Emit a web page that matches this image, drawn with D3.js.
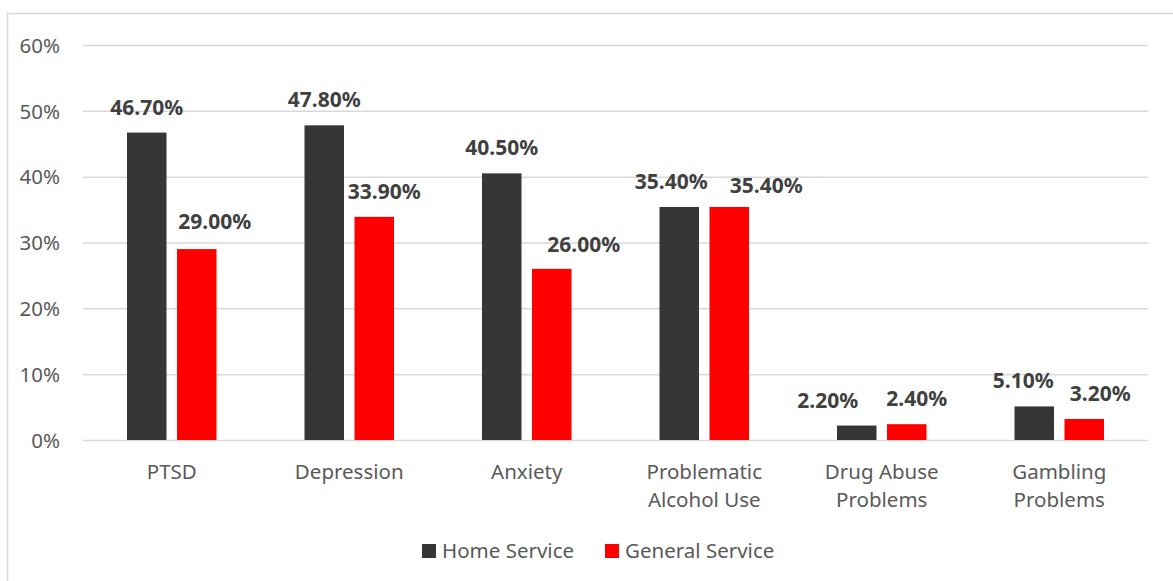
<!DOCTYPE html>
<html>
<head>
<meta charset="utf-8">
<script src="https://cdn.jsdelivr.net/npm/d3@7"></script>
<style>
  html, body { margin: 0; padding: 0; background: #fff; }
  svg { display: block; }
  text { font-family: "Noto Sans", "Open Sans", sans-serif; }
</style>
</head>
<body>
<svg id="chart" width="1173" height="581"></svg>
<script>
const categories = [["PTSD"], ["Depression"], ["Anxiety"], ["Problematic", "Alcohol Use"], ["Drug Abuse", "Problems"], ["Gambling", "Problems"]];
const seriesNames = ["Home Service", "General Service"];
const homeService = [0.467, 0.478, 0.405, 0.354, 0.022, 0.051];
const generalService = [0.290, 0.339, 0.260, 0.354, 0.024, 0.032];
const yTicks = [0, 0.1, 0.2, 0.3, 0.4, 0.5, 0.6];
// manual label nudges (as placed in the original chart)
const homeLabelDx = [0, 0, 0, -8, -29, -11];
const homeLabelDy = [-18, -18, -18, -18, -18, -18];
const generalLabelDx = [18, 10, 32, 37, 10, 16];
const generalLabelDy = [-20, -18, -17, -14, -18, -18];

const colors = ["#363636", "#ff0000"];
const svg = d3.select("#chart");

// frame
svg.append("rect").attr("x", 7.5).attr("y", 13.5).attr("width", 1200).attr("height", 600)
  .attr("fill", "none").attr("stroke", "#d9d9d9").attr("stroke-width", 1.5);

const catKeys = categories.map(c => c.join(" "));
const x = d3.scaleBand().domain(catKeys).range([83, 1148]).paddingInner(0).paddingOuter(0);
const xs = d3.scaleBand().domain(seriesNames).range([0, x.bandwidth()]).paddingInner(0.21).paddingOuter(0.88);
const y = d3.scaleLinear().domain([0, 0.6]).range([440, 45]);

// gridlines
const yAxis = d3.axisLeft(y).tickValues(yTicks).tickFormat(d3.format(".0%")).tickSize(-(1148 - 83)).tickPadding(23);
const gy = svg.append("g").attr("transform", "translate(83,0)").call(yAxis);
gy.select(".domain").remove();
gy.selectAll(".tick line").attr("stroke", "#d9d9d9").attr("stroke-width", 1.5);
gy.selectAll(".tick text").attr("fill", "#595959").attr("font-size", 20.5).attr("dy", "0.35em");

// x labels
const xg = svg.append("g");
categories.forEach((lines, i) => {
  const t = xg.append("text").attr("x", x(catKeys[i]) + x.bandwidth() / 2).attr("y", 479)
    .attr("text-anchor", "middle").attr("fill", "#595959").attr("font-size", 20.5);
  lines.forEach((ln, j) => t.append("tspan").attr("x", x(catKeys[i]) + x.bandwidth() / 2).attr("dy", j === 0 ? 0 : 28).text(ln));
});

const seriesData = [
  { name: seriesNames[0], values: homeService, dx: homeLabelDx, dy: homeLabelDy },
  { name: seriesNames[1], values: generalService, dx: generalLabelDx, dy: generalLabelDy }
];
const fmt = d3.format(".2%");

seriesData.forEach((s, si) => {
  const g = svg.append("g");
  g.selectAll("rect").data(s.values).join("rect")
    .attr("x", (d, i) => x(catKeys[i]) + xs(s.name))
    .attr("width", xs.bandwidth())
    .attr("y", d => y(d))
    .attr("height", d => y(0) - y(d))
    .attr("fill", colors[si]);
  g.selectAll("text").data(s.values).join("text")
    .attr("x", (d, i) => x(catKeys[i]) + xs(s.name) + xs.bandwidth() / 2 + s.dx[i])
    .attr("y", (d, i) => y(d) + s.dy[i])
    .attr("text-anchor", "middle").attr("font-weight", "bold").attr("font-size", 21)
    .attr("fill", "#404040").text(d => fmt(d));
});

// legend
const legend = svg.append("g");
const legendX = [422, 605];
seriesNames.forEach((n, i) => {
  legend.append("rect").attr("x", legendX[i]).attr("y", 544).attr("width", 14).attr("height", 14).attr("fill", colors[i]);
  legend.append("text").attr("x", legendX[i] + 20).attr("y", 551).attr("dy", "0.35em")
    .attr("fill", "#595959").attr("font-size", 20.5).text(n);
});
</script>
</body>
</html>
